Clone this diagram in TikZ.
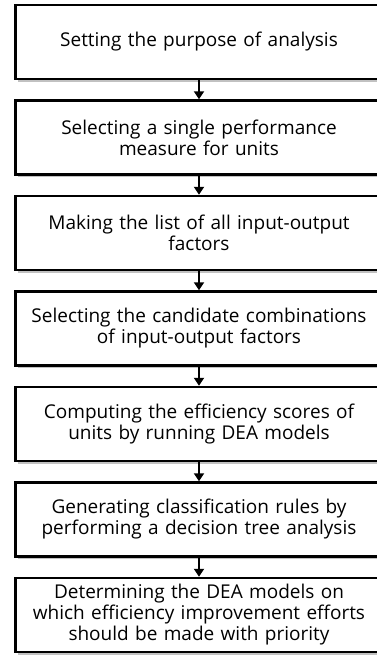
\documentclass[tikz,border=0pt]{standalone}
\usepackage{fontspec}
\newfontfamily\stagefont{Open Sans}
\usetikzlibrary{arrows.meta,shadows}

\begin{document}
\begin{tikzpicture}[x=1pt,y=1pt,
  stage/.style={draw, line width=2.4pt, fill=white, minimum width=366pt, minimum height=74pt,
    text width=360pt, align=center, font=\stagefont\fontsize{19}{21}\selectfont,
    drop shadow={shadow xshift=2pt, shadow yshift=-3pt, fill=black!35, opacity=0.7}},
  flow/.style={draw, line width=2pt, -{Triangle[width=10pt,length=8pt]}}]
\useasboundingbox (0,0) rectangle (377,656);
\clip (0,0) rectangle (377,656);
\node[stage] (s1) at (199,614) {Setting the purpose of analysis};
\node[stage] (s2) at (199,518.5) {Selecting a single performance\\measure for units};
\node[stage] (s3) at (199,423) {Making the list of all input-output\\factors};
\node[stage] (s4) at (199,327.5) {Selecting the candidate combinations\\of input-output factors};
\node[stage] (s5) at (199,232) {Computing the efficiency scores of\\units by running DEA models};
\node[stage] (s6) at (199,136.5) {Generating classification rules by\\performing a decision tree analysis};
\node[stage] (s7) at (199,41) {Determining the DEA models on\\which efficiency improvement efforts\\should be made with priority};
\path[flow] (s1) -- (s2);
\path[flow] (s2) -- (s3);
\path[flow] (s3) -- (s4);
\path[flow] (s4) -- (s5);
\path[flow] (s5) -- (s6);
\path[flow] (s6) -- (s7);
\end{tikzpicture}
\end{document}
